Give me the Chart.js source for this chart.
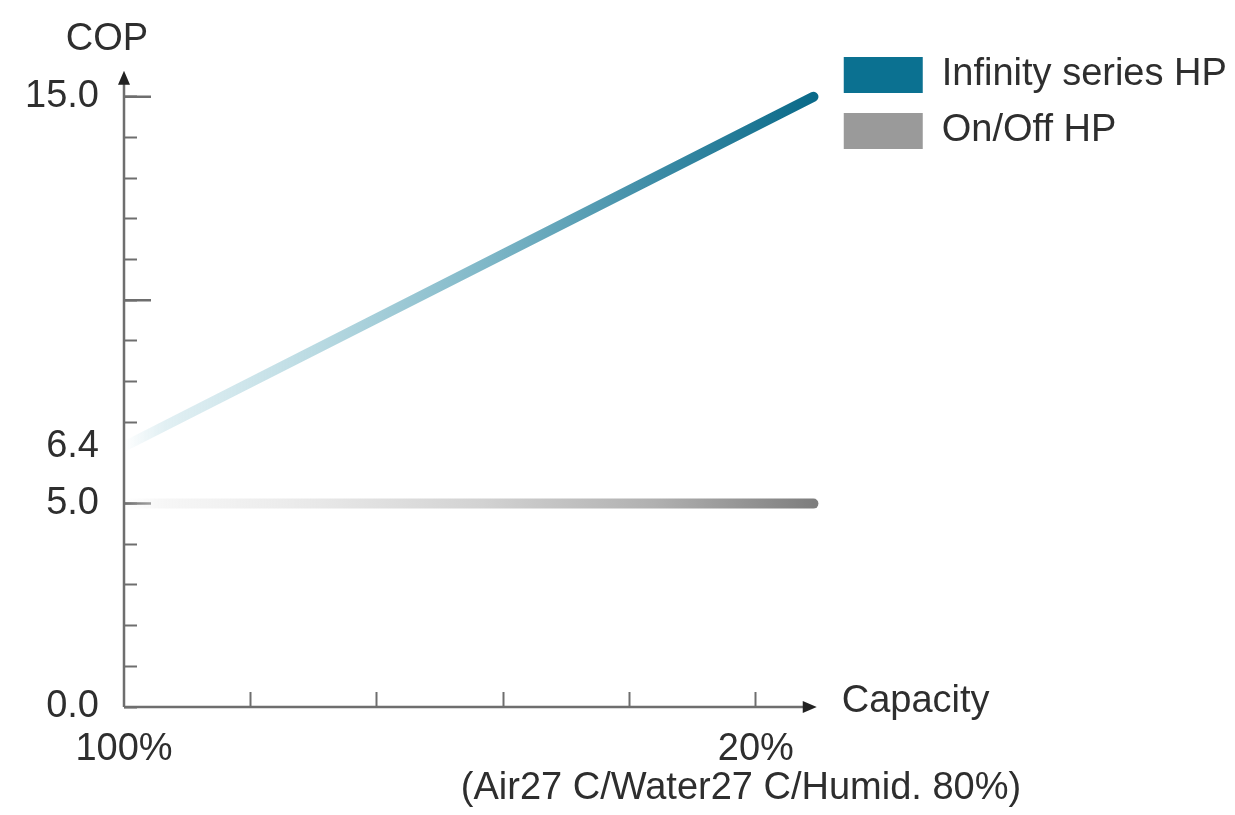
<!DOCTYPE html>
<html>
<head>
<meta charset="utf-8">
<script src="https://cdn.jsdelivr.net/npm/chart.js@4.4.1/dist/chart.umd.min.js"></script>
<style>
  html, body { margin: 0; padding: 0; background: #ffffff; }
  #wrap { width: 1235px; height: 815px; position: relative; }
  canvas { display: block; }
</style>
</head>
<body>
<div id="wrap"><canvas id="cop" width="1235" height="815"></canvas></div>
<script>
// ---- data -------------------------------------------------------------
const seriesNames = ['Infinity series HP', 'On/Off HP'];
const capacity = [100, 12.7];          // % of rated capacity at each end of the lines
const infinityCOP = [6.4, 15.0];
const onOffCOP = [5.0, 5.0];

const capacityTicks = [100, 84, 68, 52, 36, 20];
const capacityTickLabels = ['100%', '', '', '', '', '20%'];
const copTicks = [0, 1, 2, 3, 4, 5, 6, 6.4, 7, 8, 9, 10, 11, 12, 13, 14, 15];
const copTickLabels = ['0.0', '', '', '', '', '5.0', '', '6.4', '', '', '', '', '', '', '', '', '15.0'];
const copMajorTicks = [5, 10, 15];
const copUnmarked = [6, 6.4];

const axisTitleY = 'COP';
const axisTitleX = 'Capacity';
const conditions = '(Air27 C/Water27 C/Humid. 80%)';

// ---- styling ----------------------------------------------------------
const FONT = '"Liberation Sans", Arial, Helvetica, sans-serif';
const FONT_SIZE = 38;
const TEXT = '#2e2e2e';
const AXIS = '#6e6e6e';
const seriesColors = ['#0b7191', '#9a9a9a'];
const seriesStops = [
  [[0, 'rgba(200,226,233,0)'], [0.06, 'rgba(205,229,235,0.6)'], [0.28, '#b9dae2'],
   [0.52, '#80b8c8'], [0.77, '#3d8ca6'], [1, '#0a6a89']],
  [[0, 'rgba(240,240,240,0)'], [0.06, 'rgba(240,240,240,0.6)'], [0.28, '#e8e8e8'],
   [0.52, '#d2d2d2'], [0.77, '#b0b0b0'], [1, '#7e7e7e']]
];

function lineGradient(stops) {
  return (ctx) => {
    const chart = ctx.chart;
    if (!chart.chartArea) return stops[stops.length - 1][1];
    const xs = chart.scales.x;
    const x0 = xs.getPixelForValue(capacity[0]);
    const x1 = xs.getPixelForValue(capacity[capacity.length - 1]);
    const g = chart.ctx.createLinearGradient(x0, 0, x1, 0);
    stops.forEach(([o, c]) => g.addColorStop(o, c));
    return g;
  };
}

function series(values, idx) {
  return {
    label: seriesNames[idx],
    data: capacity.map((x, i) => ({ x, y: values[i] })),
    borderColor: lineGradient(seriesStops[idx]),
    backgroundColor: seriesColors[idx],
    borderWidth: 10,
    borderCapStyle: 'round',
    pointRadius: 0,
    tension: 0
  };
}

// axis lines with arrowheads, long ticks, axis titles and test conditions
const axisDecor = {
  id: 'axisDecor',
  afterLayout(chart) {
    // let the legend labels run to the canvas edge instead of being clipped
    const lg = chart.legend;
    if (lg) { lg.right = chart.width; lg.width = lg.right - lg.left; }
  },
  beforeDatasetsDraw(chart) {
    const { ctx, chartArea } = chart;
    const xs = chart.scales.x, ys = chart.scales.y;
    const ox = xs.getPixelForValue(capacity[0]);
    const oy = ys.getPixelForValue(0);
    const xTip = chartArea.right - 9;
    const yTip = ys.getPixelForValue(15) - 26;
    ctx.save();
    ctx.strokeStyle = AXIS;
    ctx.fillStyle = '#222';
    ctx.lineWidth = 2.5;
    ctx.beginPath();
    ctx.moveTo(ox, oy); ctx.lineTo(xTip - 8, oy);
    ctx.moveTo(ox, oy); ctx.lineTo(ox, yTip + 8);
    ctx.stroke();
    // long ticks
    ctx.beginPath();
    copMajorTicks.forEach(v => {
      const y = ys.getPixelForValue(v);
      ctx.moveTo(ox, y); ctx.lineTo(ox + 27, y);
    });
    ctx.stroke();
    // arrowheads
    ctx.beginPath();
    ctx.moveTo(xTip, oy); ctx.lineTo(xTip - 14, oy - 6); ctx.lineTo(xTip - 14, oy + 6); ctx.closePath();
    ctx.moveTo(ox, yTip); ctx.lineTo(ox - 6, yTip + 14); ctx.lineTo(ox + 6, yTip + 14); ctx.closePath();
    ctx.fill();
    ctx.restore();
  },
  afterDraw(chart) {
    const { ctx, chartArea } = chart;
    const ys = chart.scales.y;
    const oy = ys.getPixelForValue(0);
    ctx.save();
    ctx.fillStyle = TEXT;
    ctx.font = FONT_SIZE + 'px ' + FONT;
    ctx.textBaseline = 'alphabetic';
    ctx.textAlign = 'center';
    ctx.fillText(axisTitleY, 107, 50);
    ctx.textAlign = 'left';
    ctx.fillText(axisTitleX, chartArea.right + 16, oy + 5);
    ctx.textAlign = 'center';
    ctx.fillText(conditions, 741, 799);
    ctx.restore();
  }
};

const chart = new Chart(document.getElementById('cop'), {
  type: 'line',
  data: { datasets: [series(infinityCOP, 0), series(onOffCOP, 1)] },
  options: {
    responsive: false,
    animation: false,
    devicePixelRatio: 1,
    layout: { padding: { top: 38, right: 134, bottom: 0, left: 0 } },
    scales: {
      x: {
        type: 'linear',
        reverse: true,
        min: 11.14,
        max: 100,
        afterBuildTicks: (s) => { s.ticks = capacityTicks.map(v => ({ value: v })); },
        afterFit: (s) => { s.height = 108; },
        border: { display: false },
        grid: {
          drawOnChartArea: false,
          drawTicks: true,
          tickLength: -15,
          tickWidth: 2,
          tickColor: (c) => (c.tick && c.tick.value === capacity[0]) ? 'rgba(0,0,0,0)' : AXIS
        },
        ticks: {
          autoSkip: false,
          maxRotation: 0,
          padding: 35,
          color: TEXT,
          font: { family: FONT, size: FONT_SIZE },
          callback: (v, i) => capacityTickLabels[i]
        }
      },
      y: {
        type: 'linear',
        min: 0,
        max: 15.885,
        afterBuildTicks: (s) => { s.ticks = copTicks.map(v => ({ value: v })); },
        afterFit: (s) => { s.width = 124; },
        border: { display: false },
        grid: {
          drawOnChartArea: false,
          drawTicks: true,
          tickLength: -13,
          tickWidth: 2,
          tickColor: (c) => (c.tick && copUnmarked.includes(c.tick.value)) ? 'rgba(0,0,0,0)' : AXIS
        },
        ticks: {
          autoSkip: false,
          padding: 38,
          color: TEXT,
          font: { family: FONT, size: FONT_SIZE },
          callback: (v, i) => copTickLabels[i]
        }
      }
    },
    plugins: {
      tooltip: { enabled: false },
      legend: {
        position: 'right',
        align: 'start',
        labels: {
          boxWidth: 79,
          boxHeight: 36,
          padding: 18,
          color: TEXT,
          font: { family: FONT, size: FONT_SIZE },
          generateLabels: (ch) => Chart.defaults.plugins.legend.labels.generateLabels(ch).map((l, i) => ({
            ...l, fillStyle: seriesColors[i], strokeStyle: seriesColors[i], lineWidth: 0
          }))
        }
      }
    }
  },
  plugins: [axisDecor]
});
</script>
</body>
</html>
